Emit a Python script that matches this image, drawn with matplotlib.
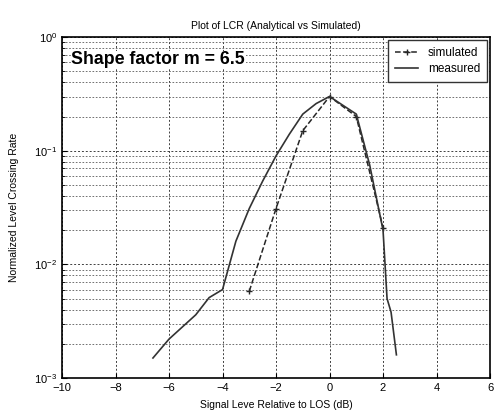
import numpy as np
import matplotlib
matplotlib.use("Agg")
import matplotlib.pyplot as plt
from matplotlib.ticker import LogLocator, NullFormatter

plt.rcParams['font.family'] = ['Liberation Sans', 'DejaVu Sans']

# measured curve (solid)
meas_x = [-6.6, -6.0, -5.0, -4.5, -4.0, -3.5, -3.0, -2.5, -2.0, -1.5, -1.0, -0.5, 0.0, 1.0, 1.5, 2.0, 2.15, 2.3, 2.5]
meas_y = [0.0015, 0.0022, 0.0036, 0.0051, 0.0060, 0.016, 0.031, 0.054, 0.090, 0.14, 0.21, 0.26, 0.30, 0.21, 0.075, 0.020, 0.0050, 0.0038, 0.0016]

# simulated curve (dashed with markers)
sim_x = [-3.0, -2.0, -1.0, 0.0, 1.0, 2.0]
sim_y = [0.0058, 0.031, 0.15, 0.30, 0.20, 0.021]

fig = plt.figure(figsize=(4.94, 4.12), dpi=100)
ax = fig.add_axes([0.1255, 0.0825, 0.8665, 0.8275])

ax.semilogy(sim_x, sim_y, linestyle='--', marker='+', color='0.15', lw=1.1, ms=5, label='simulated')
ax.semilogy(meas_x, meas_y, linestyle='-', color='0.2', lw=1.2, label='measured')

ax.set_xlim(-10, 6)
ax.set_ylim(1e-3, 1e0)
ax.set_xticks(np.arange(-10, 7, 2))
ax.yaxis.set_minor_locator(LogLocator(base=10, subs=np.arange(2, 10)))
ax.yaxis.set_minor_formatter(NullFormatter())

ax.grid(True, which='major', linestyle=(0, (2, 2)), color='0.25', lw=0.7)
ax.grid(True, which='minor', axis='y', linestyle=(0, (2, 2)), color='0.35', lw=0.6)

ax.tick_params(labelsize=8, direction='in', which='both')
for s in ax.spines.values():
    s.set_linewidth(1.2)

ax.set_title('Plot of LCR (Analytical vs Simulated)', fontsize=7.5, pad=6)
ax.set_xlabel('Signal Leve Relative to LOS (dB)', fontsize=7.5, labelpad=5)
ax.set_ylabel('Normalized Level Crossing Rate', fontsize=7.5)
ax.yaxis.set_label_coords(-0.10, 0.5)

ax.text(0.022, 0.933, 'Shape factor m = 6.5', transform=ax.transAxes,
        fontsize=12.8, fontweight='bold', va='center', ha='left',
        bbox=dict(facecolor='white', edgecolor='none', pad=0.5))

leg = ax.legend(loc='upper right', fontsize=8.5, fancybox=False, framealpha=1,
                edgecolor='0.2', borderaxespad=0.25, handlelength=2.0,
                borderpad=0.6, labelspacing=0.35)
leg.get_frame().set_linewidth(1.0)

fig.savefig('out.png', dpi=100)
